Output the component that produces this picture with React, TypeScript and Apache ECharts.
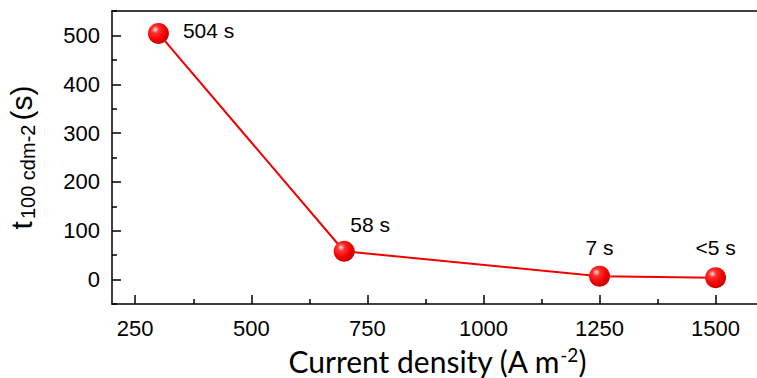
import React, { useEffect, useRef } from "react";
import * as echarts from "echarts";

const currentDensity = [300, 700, 1250, 1500];
const timeSeconds = [504, 58, 7, 4];
const pointLabels = ["504 s", "58 s", "7 s", "<5 s"];

const xMajorTicks = [250, 500, 750, 1000, 1250, 1500];
const xMinorTicks = [375, 625, 875, 1125, 1375];
const yMajorTicks = [0, 100, 200, 300, 400, 500];
const yMinorTicks = [-50, 50, 150, 250, 350, 450, 550];

const labelPlacement = [
  { position: "right", offset: [2, -3] },
  { position: "top", offset: [26, 6] },
  { position: "top", offset: [0, 4] },
  { position: "top", offset: [0, 3] },
];

const FONT = "'Liberation Sans', Arial, sans-serif";
const TITLE_FONT = "Lato, 'Open Sans', sans-serif";

export default function App() {
  const ref = useRef<HTMLDivElement>(null);
  useEffect(() => {
    if (!ref.current) return;
    const chart = echarts.init(ref.current, undefined, { renderer: "svg" });
    const sphere = {
      type: "radial",
      x: 0.35,
      y: 0.32,
      r: 0.7,
      colorStops: [
        { offset: 0, color: "#ffe4e4" },
        { offset: 0.25, color: "#ff3030" },
        { offset: 0.7, color: "#f00000" },
        { offset: 1, color: "#c80000" },
      ],
    };
    const axisLineStyle = { color: "#000", width: 1.5 };
    const fmt = (v: number) => String(v);
    chart.setOption({
      animation: false,
      grid: {
        left: 112,
        top: 11,
        right: -5,
        bottom: 74,
        outerBoundsMode: "none",
        containLabel: false,
      },
      xAxis: [
        {
          type: "value",
          min: 200,
          max: 1600,
          position: "bottom",
          axisLine: { show: true, onZero: false, lineStyle: axisLineStyle },
          axisTick: { show: true, inside: true, length: 9, lineStyle: axisLineStyle, customValues: xMajorTicks },
          axisLabel: { customValues: xMajorTicks, formatter: fmt, color: "#000", fontSize: 22, fontFamily: FONT, margin: 13 },
          splitLine: { show: false },
          name: "Current density (A m{sup|-2})",
          nameLocation: "middle",
          nameGap: 41,
          nameTextStyle: {
            color: "#000",
            fontSize: 30,
            fontFamily: TITLE_FONT,
            rich: { sup: { fontSize: 19, verticalAlign: "top", padding: [0, 0, 12, 0], fontFamily: TITLE_FONT, color: "#000" } },
          },
        },
        {
          type: "value",
          min: 200,
          max: 1600,
          position: "bottom",
          axisLine: { show: false, onZero: false },
          axisTick: { show: true, inside: true, length: 5, lineStyle: axisLineStyle, customValues: xMinorTicks },
          axisLabel: { show: false },
          splitLine: { show: false },
        },
        {
          type: "value",
          min: 200,
          max: 1600,
          position: "top",
          axisLine: { show: true, onZero: false, lineStyle: axisLineStyle },
          axisTick: { show: false },
          axisLabel: { show: false },
          splitLine: { show: false },
        },
      ],
      yAxis: [
        {
          type: "value",
          min: -50,
          max: 550,
          position: "left",
          axisLine: { show: true, onZero: false, lineStyle: axisLineStyle },
          axisTick: { show: true, inside: true, length: 9, lineStyle: axisLineStyle, customValues: yMajorTicks },
          axisLabel: { customValues: yMajorTicks, formatter: fmt, color: "#000", fontSize: 22, fontFamily: FONT, margin: 12 },
          splitLine: { show: false },
          name: "{t|t}{sub|100 cdm-2}{t|(s)}",
          nameLocation: "middle",
          nameRotate: 90,
          nameGap: 74,
          nameTextStyle: {
            color: "#000",
            fontSize: 30,
            fontFamily: FONT,
            rich: {
              t: { fontSize: 30, fontFamily: FONT, color: "#000" },
              sub: { fontSize: 20, fontFamily: FONT, color: "#000", verticalAlign: "bottom", padding: [13, 4, 0, 2] },
            },
          },
        },
        {
          type: "value",
          min: -50,
          max: 550,
          position: "left",
          axisLine: { show: false, onZero: false },
          axisTick: { show: true, inside: true, length: 5, lineStyle: axisLineStyle, customValues: yMinorTicks },
          axisLabel: { show: false },
          splitLine: { show: false },
        },
      ],
      series: [
        {
          type: "line",
          xAxisIndex: 0,
          yAxisIndex: 0,
          data: currentDensity.map((x, i) => ({
            value: [x, timeSeconds[i]],
            label: {
              show: true,
              formatter: pointLabels[i],
              position: labelPlacement[i].position,
              offset: labelPlacement[i].offset,
              distance: 12,
              color: "#000",
              fontSize: 21,
              fontFamily: FONT,
            },
          })),
          symbol: "circle",
          symbolSize: 21,
          lineStyle: { color: "#f00000", width: 2 },
          itemStyle: { color: sphere as any, borderWidth: 0 },
        },
      ],
    });
    return () => chart.dispose();
  }, []);
  return <div ref={ref} style={{ width: 757, height: 378, position: "absolute", left: 0, top: 0 }} />;
}
